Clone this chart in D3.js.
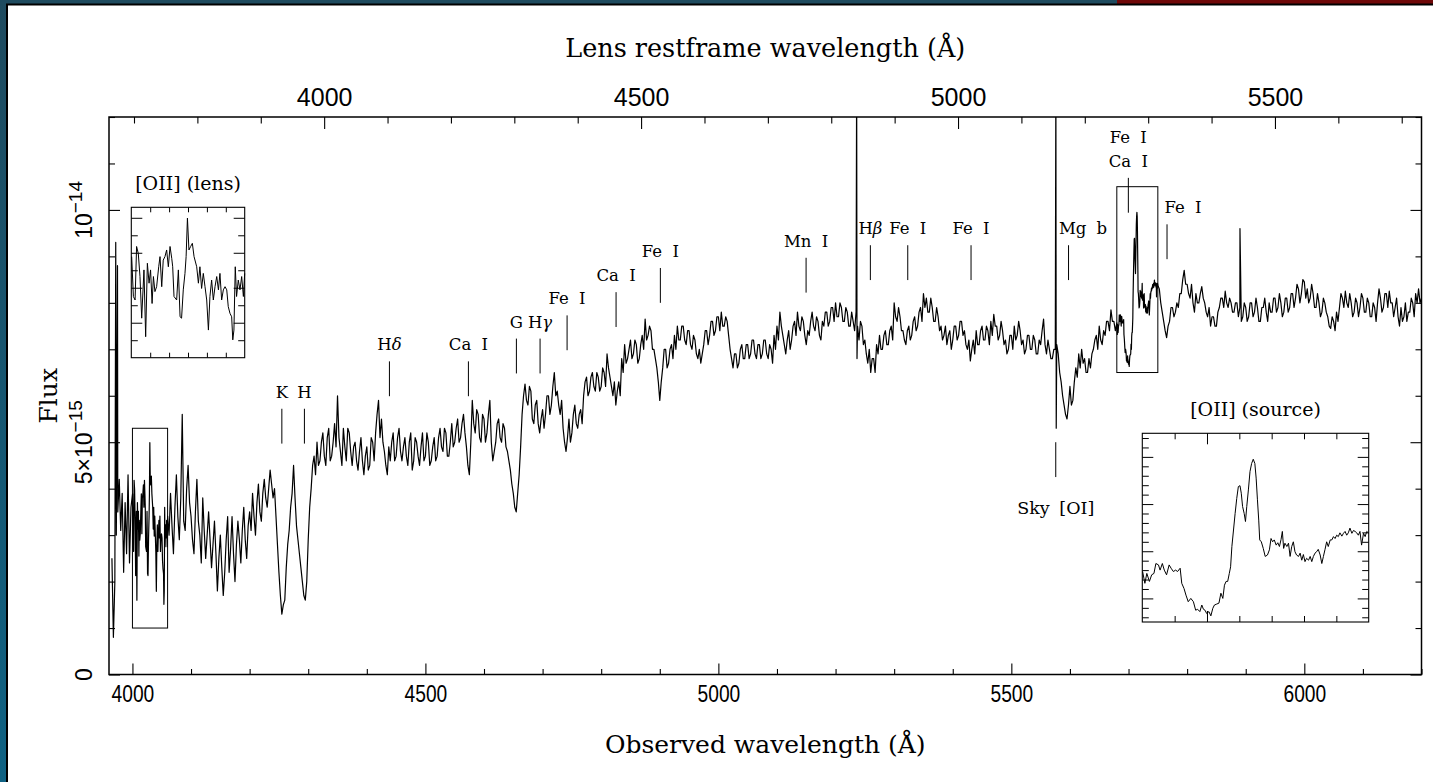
<!DOCTYPE html>
<html><head><meta charset="utf-8">
<script src="https://cdn.jsdelivr.net/npm/d3@7"></script>
<style>
html,body{margin:0;padding:0;background:#fff;overflow:hidden}
svg{display:block}
.num{font-family:"Liberation Sans",Arial,sans-serif;fill:#000}
.lbl{font-family:"DejaVu Serif",serif;fill:#000}
</style></head><body>
<svg id="chart" width="1433" height="782"></svg>
<script>
// ---------------- DATA ----------------
// Observed-frame spectrum, flux in units of 1e-15 (erg/s/cm2/A), regular 2.5 A grid
const specStart = 3965, specStep = 2.5;
const specFlux = [
  2.5,0.8,2.0,3.0,3.5,4.2,3.1,3.9,2.2,3.7,2.6,4.3,2.4,3.6,                                   // 3965-3997.5
  null,null,null,null,null,null,null,null,null,null,null,null,null,null,null,null,null,null,null,null,null,null,null,null,null, // 4000-4060
  3.0,3.9,3.2,2.6,3.6,4.3,3.4,2.9,3.8,5.6,3.3,3.1,4.0,4.5,3.7,                                // 4062.5-4097.5
  3.4,2.9,2.6,3.5,4.2,3.3,3.0,2.4,3.8,3.1,2.5,3.0,3.5,2.9,2.3,2.8,3.3,2.6,1.8,2.5,            // 4100
  3.0,2.3,1.7,2.2,2.9,3.4,2.2,2.7,3.4,2.6,2.0,2.8,3.3,2.9,2.4,3.1,3.6,2.9,2.5,3.2,            // 4150
  3.5,3.1,3.9,3.4,3.0,3.7,4.1,3.5,3.3,3.9,4.2,3.8,3.6,4.0,4.4,4.1,3.8,4.0,3.4,2.8,            // 4200
  2.2,1.7,1.3,1.5,1.6,2.3,2.8,3.1,3.6,3.9,4.5,3.8,3.2,2.9,2.6,2.3,2.0,1.7,1.6,2.0,            // 4250
  2.9,3.6,4.0,4.5,4.7,4.3,5.0,4.5,4.6,5.0,5.2,4.7,4.5,5.1,5.3,4.6,4.7,5.0,5.4,4.9,            // 4300
  6.0,5.1,4.8,4.5,5.3,4.9,4.6,5.3,5.2,4.8,4.5,4.9,5.0,4.6,4.4,4.8,5.1,4.6,4.3,4.7,            // 4350
  4.9,4.4,4.5,5.1,5.0,4.6,5.2,5.6,5.9,5.1,5.5,5.0,4.8,4.5,4.3,4.9,4.6,5.0,5.2,4.6,            // 4400
  4.7,5.1,5.3,4.8,4.6,4.9,5.1,4.7,4.5,5.0,5.2,4.4,4.6,5.1,5.0,4.7,4.5,4.9,5.2,4.6,            // 4450
  4.7,5.2,5.0,4.5,4.6,4.9,5.1,4.6,4.7,5.1,5.3,4.9,4.8,5.3,5.2,4.7,4.7,5.0,5.4,4.9,            // 4500
  5.0,5.3,5.5,5.0,5.1,5.4,5.6,5.2,4.9,4.5,4.3,5.0,5.9,5.4,5.2,5.7,5.6,5.1,5.0,5.6,            // 4550
  5.5,5.0,5.2,5.6,5.9,5.0,4.6,4.8,5.0,5.4,5.5,5.1,5.0,5.4,5.3,4.9,4.8,4.6,4.4,4.1,            // 4600
  3.9,3.6,3.5,3.9,4.3,4.9,5.6,6.0,6.25,5.9,5.8,6.2,6.1,5.5,5.4,5.8,5.9,5.4,5.2,5.5,           // 4650
  5.7,5.3,5.6,6.0,6.0,5.6,5.8,6.2,6.5,6.0,6.1,5.8,5.6,5.9,5.3,5.0,4.8,5.1,5.5,5.0,            // 4700
  5.2,5.6,5.8,5.4,5.3,5.6,5.7,5.4,6.0,6.3,6.4,6.0,6.1,6.4,6.5,6.2,6.1,6.5,6.4,6.1,            // 4750
  6.2,6.6,6.5,6.2,6.9,6.6,6.4,6.2,6.0,6.3,5.8,6.1,6.3,6.0,6.8,6.5,7.1,6.7,6.8,7.0,            // 4800
  7.2,6.8,6.9,7.2,7.1,6.7,6.8,7.1,7.3,7.0,7.65,7.2,7.3,7.5,7.4,7.0,7.0,6.8,6.6,6.3,           // 4850
  5.9,6.3,6.6,7.0,7.0,6.6,6.7,7.0,7.1,6.8,7.3,7.0,7.5,7.2,7.2,7.5,7.5,7.2,7.1,7.4,            // 4900
  7.4,7.1,7.0,7.3,7.2,6.9,6.8,7.0,6.7,6.9,7.1,7.4,7.4,7.1,7.3,7.6,7.6,7.3,7.4,7.7,            // 4950
  7.7,7.4,7.8,7.5,7.5,7.7,7.6,7.3,7.0,6.8,6.6,6.9,6.9,6.6,6.7,7.0,7.1,6.8,6.8,7.1,            // 5000
  7.1,6.8,6.9,7.2,7.2,6.9,6.8,7.1,7.1,6.8,6.9,7.2,7.2,6.9,6.8,7.1,7.0,6.7,7.3,7.0,            // 5050
  7.5,7.2,7.8,7.5,7.3,7.1,6.9,7.2,7.4,7.0,7.2,7.5,7.6,7.3,7.8,7.5,7.4,7.7,7.6,7.3,            // 5100
  7.1,7.4,7.3,7.6,7.8,7.5,7.4,7.7,7.6,7.3,7.2,7.6,7.5,7.8,7.8,7.5,7.6,7.9,7.9,7.6,            // 5150
  8.0,7.7,7.7,8.0,7.9,7.6,7.6,7.9,7.8,7.5,7.5,7.8,7.6,7.4,7.8,7.5,7.2,7.6,7.5,7.1,            // 5200
  7.2,6.9,6.7,7.0,6.5,6.8,6.8,6.5,7.1,6.9,7.3,7.0,7.0,7.3,7.4,7.1,7.1,7.4,7.5,7.2,            // 5250
  8.0,7.7,7.6,7.9,7.7,7.4,7.4,7.2,7.1,7.4,7.5,7.2,7.3,7.6,7.7,7.4,7.5,7.8,7.9,7.6,            // 5300
  8.2,7.9,8.1,7.8,7.8,8.1,7.9,7.6,7.6,7.9,7.7,7.4,7.5,7.2,7.3,7.5,7.1,7.3,7.4,7.0,            // 5350
  7.2,7.5,7.5,7.2,7.3,7.6,7.6,7.3,7.4,7.1,7.0,7.2,6.75,7.0,7.2,6.9,7.4,7.1,7.1,7.4,           // 5400
  7.5,7.2,7.2,7.5,7.4,7.1,7.6,7.3,7.75,7.5,7.5,7.2,7.3,7.6,7.4,7.1,7.2,6.9,7.0,7.3,           // 5450
  7.3,7.0,7.5,7.2,7.3,7.6,7.4,7.1,7.2,6.9,7.0,7.3,7.3,7.0,7.0,7.3,7.2,6.9,6.9,7.2,            // 5500
  7.1,7.4,7.65,7.1,6.9,7.2,7.0,6.8,6.8,7.0,7.0,7.1,6.9,6.5,6.3,6.0,5.8,5.6,5.5,5.8,           // 5550
  6.2,5.8,5.9,6.3,6.6,6.4,6.9,6.6,7.0,6.7,6.8,6.5,6.5,6.8,6.6,6.9,7.0,7.2,7.3,7.0,            // 5600
  7.5,7.2,7.1,7.4,7.3,7.6,7.6,7.4,7.85,7.6,7.6,7.4,null,null,null,null,null,null,null,null,   // 5650
  null,null,null,null,null,null,null,null,null,null,null,null,null,null,null,null,null,null,null,null,null, // 5700-5750
  8.3,8.0,7.8,7.6,7.4,7.25,7.5,7.6,7.9,7.9,7.7,7.8,8.0,7.9,8.2,8.2,8.5,8.7,8.4,               // 5752.5-5797.5
  8.4,8.2,8.1,8.4,8.0,7.8,8.2,8.0,8.0,8.2,8.35,8.1,8.0,7.8,7.7,7.9,7.5,7.7,7.7,7.5,           // 5800
  7.5,7.8,7.9,8.1,8.1,7.9,8.25,8.0,7.9,8.1,8.0,7.8,7.8,8.0,8.0,7.7,7.9,7.6,7.7,8.0,           // 5850
  7.9,7.6,7.7,8.0,8.0,7.7,7.8,8.1,7.9,7.6,7.6,7.9,7.9,8.1,7.8,7.6,8.0,7.8,7.8,8.1,            // 5900
  8.1,7.8,7.9,8.2,8.0,7.7,7.8,8.1,8.1,7.8,7.9,8.2,8.2,7.9,8.1,8.4,8.3,8.0,8.2,8.5,            // 5950
  8.45,8.1,8.3,8.0,8.1,8.4,8.2,7.9,7.9,8.2,8.0,7.7,7.8,8.1,8.0,7.8,7.7,7.5,7.45,7.7,         // 6000
  7.6,7.4,7.8,7.6,7.9,8.2,8.1,7.9,8.25,8.0,7.9,8.2,8.0,7.7,7.8,8.1,8.0,7.7,7.9,8.2,           // 6050
  8.1,7.8,7.8,8.1,8.0,7.7,7.7,8.0,7.9,7.6,8.0,8.3,8.1,7.8,7.9,8.2,8.2,7.9,8.25,8.0,           // 6100
  8.0,7.7,7.9,8.1,7.7,7.5,7.9,7.6,7.7,8.0,7.6,7.8,7.8,8.1,8.0,7.7,8.2,8.0,8.3,8.0,            // 6150
  8.1                                                                                    // 6200
];
// narrow spikes (cosmics / sky residuals), observed A and flux
const spikeWave = [3971.5, 3974.5, 5236.0, 5236.6, 5576.0, 5576.6, 5890.2];
const spikeFlux = [9.3, 8.8, 13.0, 6.8, 13.0, 5.3, 9.6];
// [OII] of the lens (fine sampling, observed A)
const lensOIIWave = [4000.2,4001.1,4002.0,4002.8,4003.7,4004.6,4005.5,4006.7,4007.6,4008.5,4009.4,4010.2,4011.0,4011.7,4012.5,4013.4,4014.5,4015.2,4016.1,4016.9,4017.8,4018.7,4019.6,4020.5,4021.4,4021.9,4022.6,4024.0,4024.9,4025.8,4026.6,4027.5,4028.4,4029.0,4029.7,4030.5,4031.4,4032.3,4033.2,4034.6,4035.5,4036.3,4037.2,4038.1,4039.0,4039.9,4040.8,4041.6,4042.5,4043.4,4044.3,4045.2,4046.1,4046.9,4047.8,4048.7,4049.6,4050.5,4051.3,4052.2,4053.1,4053.7,4054.3,4055.0,4055.7,4056.6,4057.5,4058.4,4059.3,4060.0];
const lensOIIFlux = [3.89,2.75,2.65,4.18,3.98,3.32,2.13,3.51,1.60,3.70,3.13,3.51,2.55,3.32,2.89,3.03,3.60,3.89,3.03,3.79,3.89,4.08,3.60,4.18,3.84,3.60,2.75,2.65,3.51,2.17,2.13,2.94,3.41,3.89,4.99,4.08,4.18,4.27,3.89,3.60,3.13,3.60,2.98,3.41,3.03,2.65,1.79,2.75,3.22,2.65,3.03,3.32,2.94,3.41,2.65,2.94,3.03,2.94,2.46,2.27,2.17,1.51,1.79,3.60,2.75,3.22,2.94,3.32,2.75,3.41];
// [OII] of the source (fine sampling, observed A)
const srcOIIWave = [5680.1,5680.8,5681.4,5682.2,5682.9,5683.6,5684.2,5685.0,5685.5,5686.2,5686.8,5687.5,5688.3,5688.9,5689.6,5690.3,5690.9,5691.7,5692.2,5692.9,5693.5,5694.2,5695.0,5695.8,5696.5,5697.1,5697.8,5698.4,5698.9,5699.4,5699.9,5700.6,5701.2,5701.8,5702.3,5703.0,5703.7,5704.3,5704.9,5705.4,5705.9,5706.4,5706.9,5707.3,5707.7,5708.2,5708.7,5709.2,5709.7,5710.2,5710.6,5711.0,5711.5,5711.9,5712.3,5712.8,5713.3,5713.8,5714.3,5714.8,5715.2,5715.6,5716.0,5716.3,5716.8,5717.4,5718.0,5718.7,5719.3,5719.8,5720.3,5720.8,5721.4,5721.9,5722.4,5722.9,5723.3,5723.7,5724.1,5724.7,5725.2,5725.7,5726.2,5726.7,5727.2,5727.7,5728.3,5728.8,5729.3,5729.8,5730.3,5730.8,5731.4,5731.9,5732.4,5732.9,5733.4,5733.9,5734.4,5735.0,5735.5,5736.0,5736.5,5737.0,5737.5,5738.1,5738.6,5739.1,5739.6,5740.1,5740.6,5741.1,5741.7,5742.2,5742.7,5743.2,5743.7,5744.2,5744.8,5745.3,5745.8,5746.3,5746.8,5747.3,5747.8,5748.4,5748.9,5749.4,5750.0];
const srcOIIFlux = [7.57,7.32,7.53,7.36,7.50,7.53,7.74,7.71,7.60,7.74,7.60,7.50,7.71,7.64,7.57,7.60,7.57,7.64,7.32,7.21,7.07,6.93,7.00,6.93,6.75,6.77,6.72,6.86,6.77,6.75,6.68,6.72,6.63,6.79,6.86,6.88,6.90,7.11,7.00,7.28,7.36,7.36,7.53,7.67,8.10,8.45,8.80,9.12,9.37,9.39,9.23,8.95,8.80,8.63,8.95,9.30,9.69,9.86,9.95,9.86,9.55,9.09,8.66,8.24,8.20,8.06,7.89,7.92,8.03,8.27,8.20,8.24,8.13,8.18,8.10,8.25,8.42,8.06,8.17,8.10,8.17,7.89,8.10,8.20,7.99,7.92,7.89,7.96,7.81,7.93,7.78,7.85,7.81,7.89,7.78,7.89,7.96,7.99,8.04,7.92,7.74,7.89,8.04,8.20,8.10,8.24,8.24,8.31,8.27,8.34,8.31,8.39,8.32,8.38,8.42,8.34,8.39,8.49,8.38,8.44,8.42,8.39,8.34,8.42,8.13,8.38,8.31,8.42,8.38];

// Absorption-line identifications (observed wavelength, label, flux level of marker foot)
const lineWave  = [4255.0,4293.5,4438.6,4573.4,4655.3,4695.7,4741.8,4825.4,4901.0,5149.7,5259.4,5323.2,5431.2,5597.6,5699.7,5765.7];
const lineLabel = ["K","H","Hδ","Ca I","G","Hγ","Fe I","Ca I","Fe I","Mn I","Hβ","Fe I","Fe I","Mg b","Fe I|Ca I","Fe I"];
const lineLevel = [4.97,4.97,5.99,5.99,6.48,6.48,6.98,7.48,8.0,8.22,8.49,8.49,8.49,8.49,9.94,8.94];
const skyWave = 5575.8, skyLabel = "Sky [OI]", skyLevel = 5.0;

// Boxes / insets (wavelength range, flux range)
const lensBox = [4000, 4060, 1.0, 5.3];
const srcBox  = [5680, 5750, 6.5, 10.5];
const lensTitle = "[OII] (lens)", srcTitle = "[OII] (source)";

// Axes
const obsDomain = [3960, 6200];
const zLens = 0.0818;
const obsTicks = [4000, 4500, 5000, 5500, 6000];
const restTicks = [4000, 4500, 5000, 5500];
const fluxTicks = [0, 5, 10];
const fluxTickBase = ["0", "5×10", "10"];
const fluxTickExp  = ["", "−15", "−14"];
const xTitle = "Observed wavelength (Å)";
const xTopTitle = "Lens restframe wavelength (Å)";
const yTitle = "Flux";

// ---------------- LAYOUT / STYLE ----------------
const W = 1433, H = 782;
const P = {l:109, r:1421.5, t:117, b:674.5};
const labelShift = {13: 14.5, 15: 16};   // px offsets of a few labels
const svg = d3.select("#chart");

// page decoration
const defs = svg.append("defs");
const g1 = defs.append("linearGradient").attr("id","side").attr("x1",0).attr("y1",0).attr("x2",0).attr("y2",1);
g1.append("stop").attr("offset","0%").attr("stop-color","#1f4b5f");
g1.append("stop").attr("offset","100%").attr("stop-color","#0f6283");
svg.append("rect").attr("width",W).attr("height",H).attr("fill","#fff");
svg.append("rect").attr("x",0).attr("y",0).attr("width",W).attr("height",4).attr("fill","#1f4b5f");
svg.append("rect").attr("x",1117).attr("y",0).attr("width",W-1117).attr("height",4).attr("fill","#6f0808");
svg.append("rect").attr("x",0).attr("y",0).attr("width",6).attr("height",H).attr("fill","url(#side)");
svg.append("rect").attr("x",6).attr("y",4).attr("width",2).attr("height",H).attr("fill","#000");
svg.append("rect").attr("x",6).attr("y",3.5).attr("width",W).attr("height",2).attr("fill","#000");

// scales
const x = d3.scaleLinear().domain(obsDomain).range([P.l, P.r]);
const xr = d3.scaleLinear().domain(obsDomain.map(v => v/(1+zLens))).range([P.l, P.r]);
const y = d3.scaleLinear().domain([0, 12]).range([P.b, P.t]);

// clip
defs.append("clipPath").attr("id","plotclip").append("rect")
  .attr("x",P.l).attr("y",P.t).attr("width",P.r-P.l).attr("height",P.b-P.t);

// merged spectrum
const pts = [];
specFlux.forEach((f,i) => { if (f !== null) pts.push([specStart + i*specStep, f]); });
spikeWave.forEach((w,i) => pts.push([w, spikeFlux[i]]));
lensOIIWave.forEach((w,i) => pts.push([w, lensOIIFlux[i]]));
srcOIIWave.forEach((w,i) => pts.push([w, srcOIIFlux[i]]));
pts.sort((a,b) => a[0]-b[0]);

svg.append("path").datum(pts).attr("clip-path","url(#plotclip)")
  .attr("fill","none").attr("stroke","#000").attr("stroke-width",1.2).attr("stroke-linejoin","round")
  .attr("d", d3.line().x(d => x(d[0])).y(d => y(d[1])));

// axes helper
function styleAxis(g){ g.select(".domain").remove(); g.selectAll("line").attr("stroke","#000").attr("stroke-width",1.1); }
const minorObs = d3.range(4000, 6201, 100).filter(v => !obsTicks.includes(v));
const restMin = Math.ceil(obsDomain[0]/(1+zLens)/100)*100, restMax = obsDomain[1]/(1+zLens);
const minorRest = d3.range(restMin, restMax, 100).filter(v => !restTicks.includes(v));
const minorFlux = d3.range(0, 12.01, 1).filter(v => !fluxTicks.includes(v));

// bottom
svg.append("g").attr("transform",`translate(0,${P.b})`)
  .call(d3.axisBottom(x).tickValues(obsTicks).tickSize(-11).tickPadding(10).tickFormat(d3.format("d")))
  .call(styleAxis).call(g => g.selectAll("text").attr("class","num").attr("font-size",24).attr("transform","scale(0.8,1)"));
svg.append("g").attr("transform",`translate(0,${P.b})`)
  .call(d3.axisBottom(x).tickValues(minorObs).tickSize(-5.5).tickFormat("")).call(styleAxis);
// top (rest frame)
svg.append("g").attr("transform",`translate(0,${P.t})`)
  .call(d3.axisTop(xr).tickValues(restTicks).tickSize(-12).tickPadding(11).tickFormat(d3.format("d")))
  .call(styleAxis).call(g => g.selectAll("text").attr("class","num").attr("font-size",25));
svg.append("g").attr("transform",`translate(0,${P.t})`)
  .call(d3.axisTop(xr).tickValues(minorRest).tickSize(-6.5).tickFormat("")).call(styleAxis);
// left / right
[[P.l,d3.axisLeft],[P.r,d3.axisRight]].forEach(([px,ax]) => {
  svg.append("g").attr("transform",`translate(${px},0)`)
    .call(ax(y).tickValues(fluxTicks).tickSize(-11).tickFormat("")).call(styleAxis);
  svg.append("g").attr("transform",`translate(${px},0)`)
    .call(ax(y).tickValues(minorFlux).tickSize(-6).tickFormat("")).call(styleAxis);
});
// left tick labels (rotated, with exponents)
fluxTicks.forEach((v,i) => {
  const t = svg.append("text").attr("class","num").attr("font-size",23)
    .attr("text-anchor","middle")
    .attr("transform",`translate(92,${y(v)}) rotate(-90)`);
  t.append("tspan").text(fluxTickBase[i]);
  if (fluxTickExp[i]) t.append("tspan").attr("dy",-10).attr("font-size",19).text(fluxTickExp[i]);
});

// frame
svg.append("rect").attr("x",P.l).attr("y",P.t).attr("width",P.r-P.l).attr("height",P.b-P.t)
  .attr("fill","none").attr("stroke","#000").attr("stroke-width",1.5);

// titles
svg.append("text").attr("class","lbl").attr("x",(P.l+P.r)/2).attr("y",57).attr("text-anchor","middle")
  .attr("font-size",25.5).text(xTopTitle);
svg.append("text").attr("class","lbl").attr("x",(P.l+P.r)/2).attr("y",753).attr("text-anchor","middle")
  .attr("font-size",25).text(xTitle);
svg.append("text").attr("class","lbl").attr("font-size",25).attr("text-anchor","middle")
  .attr("transform",`translate(57,${(P.t+P.b)/2 + 0}) rotate(-90)`).text(yTitle);

// boxes
[lensBox, srcBox].forEach(b => {
  svg.append("rect").attr("x",x(b[0])).attr("y",y(b[3])).attr("width",x(b[1])-x(b[0])).attr("height",y(b[2])-y(b[3]))
    .attr("fill","none").attr("stroke","#000").attr("stroke-width",1);
});

// line markers
const TL = 0.75; // marker length in flux units
function addLabel(sel, str){
  for (const ch of str) {
    if ("δβγ".includes(ch)) sel.append("tspan").attr("font-style","italic").text(ch);
    else sel.append("tspan").text(ch);
  }
}
lineWave.forEach((w,i) => {
  const xp = x(w), y0 = y(lineLevel[i]), y1 = y(lineLevel[i]+TL);
  svg.append("line").attr("x1",xp).attr("x2",xp).attr("y1",y0).attr("y2",y1).attr("stroke","#000").attr("stroke-width",1);
  const parts = lineLabel[i].split("|").reverse();
  parts.forEach((p,j) => {
    const t = svg.append("text").attr("class","lbl").attr("font-size",16.5).attr("text-anchor","middle")
      .attr("word-spacing",5).attr("x", xp + (labelShift[i]||0)).attr("y", y1 - 11 - j*23.5);
    addLabel(t, p);
  });
});
// sky line marker
{
  const xp = x(skyWave);
  svg.append("line").attr("x1",xp).attr("x2",xp).attr("y1",y(skyLevel)).attr("y2",y(skyLevel-TL)).attr("stroke","#000");
  svg.append("text").attr("class","lbl").attr("font-size",17.5).attr("text-anchor","middle").attr("word-spacing",4)
    .attr("x",xp).attr("y",y(skyLevel-TL)+37).text(skyLabel);
}

// insets
function inset(box, wave, flux, rect, title, xMaj, xMin, yMaj, yMin, xMinLen){
  const [x0,y0,x1,y1] = rect;
  const xi = d3.scaleLinear().domain([box[0],box[1]]).range([x0,x1]);
  const yi = d3.scaleLinear().domain([box[2],box[3]]).range([y1,y0]);
  const g = svg.append("g");
  g.append("path").datum(wave.map((w,i)=>[w,flux[i]])).attr("fill","none").attr("stroke","#000").attr("stroke-width",1)
    .attr("d", d3.line().x(d=>xi(d[0])).y(d=>yi(d[1])));
  const add = (ax, tr, vals, len) => g.append("g").attr("transform",tr).call(ax.tickValues(vals).tickSize(-len).tickFormat("")).call(styleAxis)
    .call(s => s.selectAll("line").attr("stroke-width",1));
  add(d3.axisBottom(xi), `translate(0,${y1})`, xMin, xMinLen);
  add(d3.axisTop(xi), `translate(0,${y0})`, xMin, xMinLen);
  add(d3.axisBottom(xi), `translate(0,${y1})`, xMaj, 11);
  add(d3.axisTop(xi), `translate(0,${y0})`, xMaj, 11);
  add(d3.axisLeft(yi), `translate(${x0},0)`, yMaj, 11);
  add(d3.axisRight(yi), `translate(${x1},0)`, yMaj, 11);
  add(d3.axisLeft(yi), `translate(${x0},0)`, yMin, 6.5);
  add(d3.axisRight(yi), `translate(${x1},0)`, yMin, 6.5);
  g.append("rect").attr("x",x0).attr("y",y0).attr("width",x1-x0).attr("height",y1-y0)
    .attr("fill","none").attr("stroke","#000").attr("stroke-width",1.1);
  g.append("text").attr("class","lbl").attr("font-size",19).attr("text-anchor","middle")
    .attr("x",(x0+x1)/2).attr("y",y0-17.5).text(title);
}
inset(lensBox, lensOIIWave, lensOIIFlux, [131.3,207.3,244.7,357.7], lensTitle,
  [], [4010,4020,4030,4040,4050], [2,3,4,5], [1.5,2.5,3.5,4.5], 5);
inset(srcBox, srcOIIWave, srcOIIFlux, [1142.3,433.3,1368.7,622], srcTitle,
  [5700], [5690,5710,5720,5730,5740], [7,8,9,10], [6.6,6.8,7.2,7.4,7.6,7.8,8.2,8.4,8.6,8.8,9.2,9.4,9.6,9.8,10.2,10.4], 6);
</script>
</body></html>
